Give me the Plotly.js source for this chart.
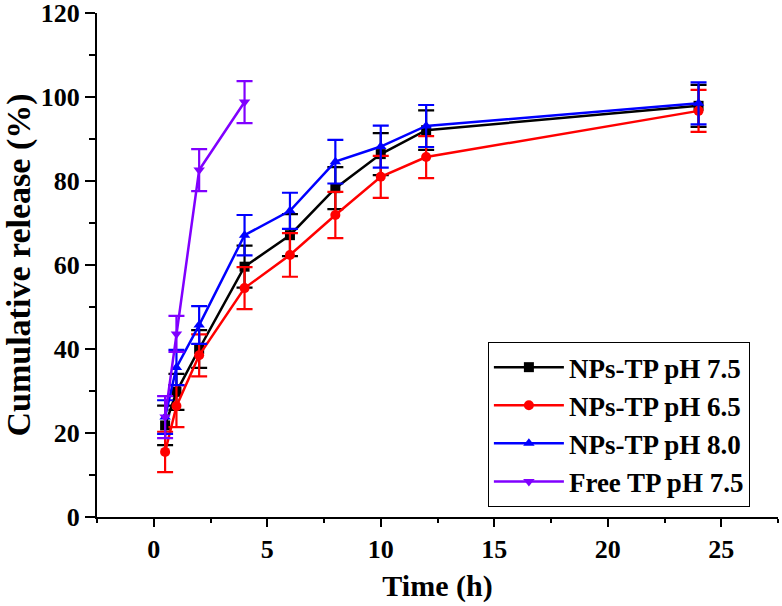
<!DOCTYPE html>
<html>
<head>
<meta charset="utf-8">
<script src="https://cdn.plot.ly/plotly-3.0.1.min.js"></script>
<style>
body{margin:0;padding:0;background:#fff;}
#chart{width:782px;height:606px;}
</style>
</head>
<body>
<div id="chart"></div>
<script>
// release data (time in h, cumulative release in %)
let timeNP = [0.5, 1, 2, 4, 6, 8, 10, 12, 24];
let timeFree = [0.5, 1, 2, 4];

let np75 = [21.8, 29.8, 40.0, 59.6, 67.1, 78.3, 86.4, 92.1, 97.9];
let np75Err = [4.7, 4.3, 4.5, 5.0, 5.0, 5.0, 5.0, 4.7, 5.0];

let np65 = [15.5, 26.4, 38.5, 54.5, 62.4, 71.9, 81.0, 85.7, 96.7];
let np65Err = [4.8, 5.0, 5.0, 5.0, 5.2, 5.5, 5.0, 5.0, 5.0];

let np80 = [23.8, 35.6, 45.7, 67.1, 72.9, 84.6, 88.2, 93.1, 98.5];
let np80Err = [4.0, 4.2, 4.5, 4.8, 4.3, 5.2, 5.0, 5.0, 5.0];

let free75 = [23.8, 43.6, 82.6, 98.8];
let free75Err = [5.0, 4.3, 5.0, 5.0];

let seriesNames = ["NPs-TP pH 7.5", "NPs-TP pH 6.5", "NPs-TP pH 8.0", "Free TP pH 7.5"];

const serif = "Liberation Serif, Times New Roman, serif";

function makeTrace(x, y, err, name, color, symbol){
  return {
    x: x,
    y: y,
    name: name,
    mode: 'lines+markers',
    line: {color: color, width: 2.5},
    marker: {color: color, symbol: symbol, size: 10},
    error_y: {type: 'data', array: err, visible: true, color: color, thickness: 2.2, width: 8}
  };
}

let traces = [
  makeTrace(timeNP, np75, np75Err, seriesNames[0], '#000000', 'square'),
  makeTrace(timeNP, np65, np65Err, seriesNames[1], '#ff0000', 'circle'),
  makeTrace(timeNP, np80, np80Err, seriesNames[2], '#0000ff', 'triangle-up'),
  makeTrace(timeFree, free75, free75Err, seriesNames[3], '#8000ff', 'triangle-down')
];

let layout = {
  width: 782,
  height: 606,
  margin: {l: 97, r: 4, t: 13, b: 89},
  paper_bgcolor: '#ffffff',
  plot_bgcolor: '#ffffff',
  font: {family: serif, color: '#000000'},
  showlegend: true,
  legend: {
    x: 0.574, y: 0.347, xanchor: 'left', yanchor: 'top',
    bordercolor: '#000000', borderwidth: 1, bgcolor: '#ffffff',
    font: {family: serif, size: 27, weight: 'bold', color: '#000000'},
    itemwidth: 70
  },
  xaxis: {
    range: [-2.5, 27.5],
    tick0: 0, dtick: 5,
    showgrid: false, zeroline: false,
    showline: true, linecolor: '#000000', linewidth: 2,
    ticks: 'outside', ticklen: 8, tickwidth: 2, tickcolor: '#000000',
    minor: {dtick: 2.5, tick0: 0, ticks: 'outside', ticklen: 4, tickwidth: 2, tickcolor: '#000000'},
    tickfont: {family: serif, size: 26, weight: 'bold'},
    ticklabeloverflow: 'allow',
    title: {text: 'Time (h)', font: {family: serif, size: 30, weight: 'bold'}, standoff: 12}
  },
  yaxis: {
    range: [0, 120],
    tick0: 0, dtick: 20,
    showgrid: false, zeroline: false,
    showline: true, linecolor: '#000000', linewidth: 2,
    ticks: 'outside', ticklen: 10, tickwidth: 2, tickcolor: '#000000',
    minor: {dtick: 10, tick0: 0, ticks: 'outside', ticklen: 6, tickwidth: 2, tickcolor: '#000000'},
    tickfont: {family: serif, size: 26, weight: 'bold'},
    ticklabeloverflow: 'allow',
    title: {text: 'Cumulative release (%)', font: {family: serif, size: 34, weight: 'bold'}, standoff: 4}
  }
};

Plotly.newPlot('chart', traces, layout, {displayModeBar: false, staticPlot: true});
</script>
</body>
</html>
